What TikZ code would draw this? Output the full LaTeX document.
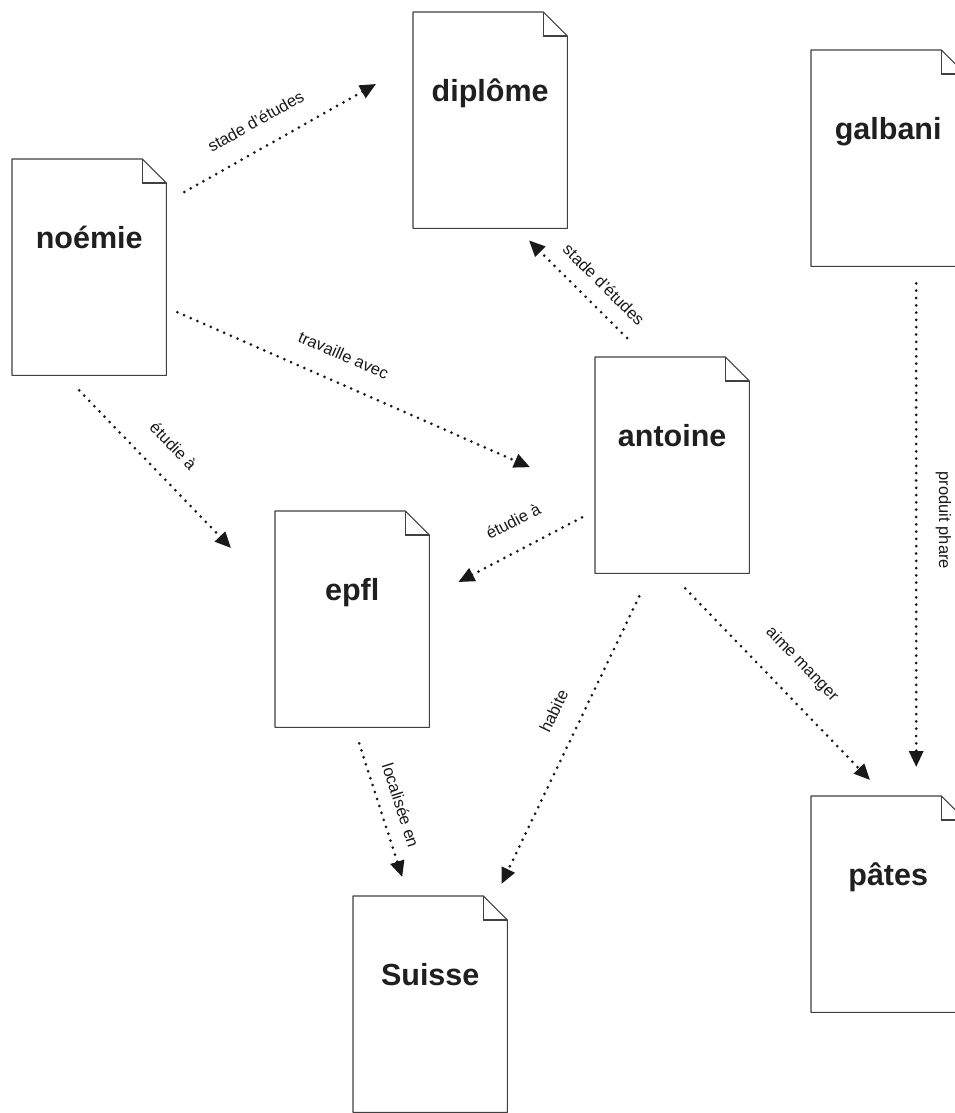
\documentclass[tikz,border=0pt]{standalone}
\usepackage{fontspec}
\setmainfont{Liberation Sans}
\usepackage{tikz}
\usetikzlibrary{arrows.meta}
\usetikzlibrary{calc}
\tikzstyle{arrow}= [line width=3pt, line cap=round, dash pattern=on 0pt off 7.3pt, black!90, -{Triangle[length=16pt,width=14pt]}]
\tikzstyle{lbl}= [font=\fontsize{16.5}{19}\selectfont, sloped, inner sep=2pt, text=black!90]

\begin{document}
\begin{tikzpicture}[
		x=1pt, y=-1pt,
    docnode/.style={
    inner sep=0pt, text width=154pt, align=center,
    text height=89pt, text depth=127pt, anchor=north west,
    font=\fontsize{30.5}{34}\selectfont\bfseries, text=black!88
    }
	]
  \useasboundingbox (0,0) rectangle (955,1113);
  \clip (0,0) rectangle (955,1113);

  \node[docnode] (noemie) at (12,159) {noémie};
  \node[docnode] (diplome) at (413,12) {diplôme};
  \node[docnode] (galbani) at (811,50) {galbani};
  \node[docnode] (antoine) at (595,357) {antoine};
  \node[docnode] (epfl) at (275,511) {epfl};
  \node[docnode] (suisse) at (353,896) {Suisse};
  \node[docnode] (pates) at (811,796) {pâtes};

  % outline with folded corner
  \foreach \n in {noemie,diplome,galbani,antoine,epfl,suisse,pates}{
    \draw[black!75, line width=1.1pt, line join=round]
      (\n.south west) -- (\n.north west) -- ([xshift=-24pt]\n.north east)
      -- ([yshift=-24pt]\n.north east) -- (\n.south east) -- cycle;
    \draw[black!75, line width=1.1pt]
      ([xshift=-24pt]\n.north east) |- ([yshift=-24pt]\n.north east);
  }

  \draw[arrow] ([shift={(18,33)}]noemie.north east) -- ([shift={(-37,72)}]diplome.north west)
    node[lbl, pos=0.44, above=17pt] {stade d'études};
  \draw[arrow] ([shift={(32,-19)}]antoine.north west) -- ([shift={(116,12)}]diplome.south west)
    node[lbl, pos=0.39, above=12pt] {stade d'études};
  \draw[arrow] ([shift={(11,45)}]noemie.east) -- ([shift={(-65,2)}]antoine.west)
    node[lbl, pos=0.44, above=18pt] {travaille avec};
  \draw[arrow] ([shift={(-10,15)}]noemie.south) -- ([shift={(-44,37)}]epfl.north west)
    node[lbl, pos=0.48, above=20pt] {étudie à};
  \draw[arrow] ([shift={(-13,-56)}]antoine.south west) -- ([shift={(29,71)}]epfl.north east)
    node[lbl, pos=0.45, above=19pt] {étudie à};
  \draw[arrow] ([shift={(-33,23)}]antoine.south) -- ([shift={(-6,-12)}]suisse.north east)
    node[lbl, pos=0.44, above=18pt] {habite};
  \draw[arrow] ([shift={(13,15)}]antoine.south) -- ([shift={(59,-16)}]pates.north west)
    node[lbl, pos=0.51, above=20pt] {aime manger};
  \draw[arrow] ([shift={(7,16)}]epfl.south) -- ([shift={(-28,-19)}]suisse.north)
    node[lbl, pos=0.51, above=11pt] {localisée en};
  \draw[arrow] ([shift={(28,17)}]galbani.south) -- ([shift={(28,-29)}]pates.north)
    node[lbl, pos=0.49, above=16pt] {produit phare};

\end{tikzpicture}
\end{document}
